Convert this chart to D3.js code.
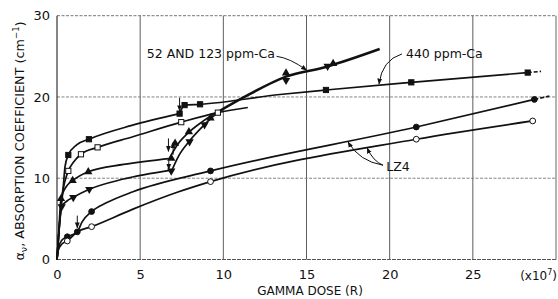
<!DOCTYPE html>
<html>
<head>
<meta charset="utf-8">
<script src="https://cdn.jsdelivr.net/npm/d3@7"></script>
<style>
body { margin: 0; background: #fff; }
svg { display: block; }
text { font-family: 'DejaVu Sans', sans-serif; fill: #111; }
</style>
</head>
<body>
<svg id="chart" width="558" height="299"></svg>
<script>
// Axis ticks
var xTicks = [0, 5, 10, 15, 20, 25];
var yTicks = [0, 10, 20, 30];
var xGrid = [5, 10, 15, 20, 25];
var yGrid = [10, 20];

// 440 ppm-Ca (filled squares)
var sqFilledPts = [[0.68, 12.86], [1.92, 14.8], [7.37, 17.95], [7.67, 19.0], [8.6, 19.1], [16.17, 20.86], [21.3, 21.8], [28.3, 23.0]];
var sqFilledLineA = [[0, 0], [0.12, 3.5], [0.38, 9.0], [0.48, 11.4], [0.68, 12.86], [1.18, 14.1], [1.92, 14.8], [4.5, 16.5], [7.37, 17.95]];
var sqFilledLineB = [[7.37, 17.95], [7.67, 19.0], [8.6, 19.1], [13.4, 20.3], [16.17, 20.86], [21.3, 21.8], [28.3, 23.0]];
var sqFilledDash = [[28.3, 23.0], [29.1, 23.15]];

// open squares
var sqOpenPts = [[0.68, 10.9], [1.44, 12.95], [2.44, 13.8], [7.47, 16.9], [9.67, 18.07]];
var sqOpenLine = [[0, 0], [0.1, 3], [0.3, 7.8], [0.5, 9.8], [0.68, 10.9], [1.0, 12.0], [1.44, 12.95], [2.44, 13.8], [4.56, 15.1], [7.47, 16.9], [9.67, 18.07], [11.47, 18.7]];

// 52 and 123 ppm-Ca (triangles)
var triUpPts = [[0.24, 7.48], [0.94, 9.7], [1.88, 10.8], [6.87, 12.45], [7.1, 14.3], [7.93, 15.7], [9.23, 17.4], [13.77, 22.95], [16.6, 24.1]];
var triDownPts = [[0.28, 6.5], [0.98, 7.65], [1.94, 8.64], [6.87, 10.9], [7.97, 14.5], [8.87, 16.6], [13.77, 22.05], [16.27, 23.8]];
var triUpLine = [[0, 0], [0.1, 3.2], [0.24, 7.48], [0.5, 8.8], [0.94, 9.7], [1.88, 10.8], [4, 11.7], [6.87, 12.45]];
var triDownLine = [[0, 0], [0.1, 3], [0.28, 6.5], [0.6, 7.2], [0.98, 7.65], [1.94, 8.64], [4, 9.9], [6.87, 11.0]];
var triUpArc = [[6.8, 12.6], [7.2, 14.0], [7.9, 15.6], [8.7, 16.9], [9.67, 18.2]];
var triDownArc = [[6.87, 10.8], [7.3, 12.7], [7.97, 14.6], [8.87, 16.6], [9.67, 18.1]];
var triMerged = [[9.67, 18.15], [11.27, 20.0], [13.77, 22.5], [16.17, 23.7], [19.4, 25.9]];

// LZ4 (circles)
var circFilledPts = [[0.62, 2.8], [1.22, 3.4], [2.08, 5.9], [9.23, 10.9], [21.6, 16.3], [28.7, 19.7]];
var circFilledLine = [[0, 0], [0.1, 1.5], [0.3, 2.4], [0.62, 2.8], [1.22, 3.4], [1.5, 4.6], [2.08, 5.9], [3, 7.0], [4.57, 8.34], [9.23, 10.9], [21.6, 16.3], [28.7, 19.7]];
var circFilledDash = [[28.7, 19.7], [29.6, 20.1]];
var circOpenPts = [[0.62, 2.28], [2.08, 4.04], [9.23, 9.58], [21.6, 14.8], [28.6, 17.05]];
var circOpenLine = [[0, 0], [0.1, 1.3], [0.3, 1.9], [0.62, 2.28], [1.22, 3.4], [2.08, 4.04], [4.57, 6.2], [7.27, 8.3], [9.23, 9.58], [21.6, 14.8], [28.6, 17.05]];

// small vertical arrows: [x, from y, to y]
var arrows = [[7.37, 19.9, 18.3], [1.22, 5.4, 3.9], [6.7, 14.9, 13.3], [6.98, 12.9, 14.4], [6.72, 12.2, 11.1]];

// labels with leaders
var labels = [
	{ text: "52 AND 123 ppm-Ca", x: 5.4, y: 24.8, lead: [[13.2, 25.0], [14.0, 24.8], [15.0, 23.3]] },
	{ text: "440 ppm-Ca", x: 20.98, y: 24.8, lead: [[20.74, 25.3], [19.54, 24.55], [19.36, 21.6]] },
	{ text: "LZ4", x: 19.8, y: 10.9, lead: [[19.6, 11.6], [18.17, 12.1], [17.5, 14.46]] },
	{ text: "", x: 0, y: 0, lead: [[19.6, 11.6], [19.0, 12.1], [18.65, 13.72]] }
];

var svg = d3.select('#chart');

var x = d3.scaleLinear().domain([0, 30]).range([57, 556]);
var y = d3.scaleLinear().domain([0, 30]).range([259.5, 15.7]);

var line = d3.line()
	.x(function(d) { return x(d[0]); })
	.y(function(d) { return y(d[1]); })
	.curve(d3.curveMonotoneX);

// arrowhead marker
svg.append('defs').append('marker')
	.attr('id', 'head')
	.attr('viewBox', '0 0 10 10')
	.attr('refX', 9).attr('refY', 5)
	.attr('markerWidth', 6).attr('markerHeight', 6)
	.attr('orient', 'auto-start-reverse')
	.append('path').attr('d', 'M0,1L10,5L0,9z').attr('fill', '#111');

// grid
svg.selectAll('.vgrid').data(xGrid).enter().append('line')
	.attr('x1', function(d) { return x(d); }).attr('x2', function(d) { return x(d); })
	.attr('y1', y(0)).attr('y2', y(30))
	.attr('stroke', '#333').attr('stroke-width', 0.8);
svg.selectAll('.hgrid').data(yGrid).enter().append('line')
	.attr('x1', x(0)).attr('x2', x(30))
	.attr('y1', function(d) { return y(d); }).attr('y2', function(d) { return y(d); })
	.attr('stroke', '#777').attr('stroke-width', 0.9).attr('stroke-dasharray', '3,1.5');

// frame
svg.append('line').attr('x1', x(0)).attr('x2', x(30)).attr('y1', y(30)).attr('y2', y(30))
	.attr('stroke', '#777').attr('stroke-width', 1).attr('stroke-dasharray', '3,1.5');
svg.append('line').attr('x1', x(0)).attr('x2', x(30)).attr('y1', y(0)).attr('y2', y(0))
	.attr('stroke', '#555').attr('stroke-width', 1.1).attr('stroke-dasharray', '4,1');
svg.append('line').attr('x1', x(0)).attr('x2', x(0)).attr('y1', y(0)).attr('y2', y(30))
	.attr('stroke', '#222').attr('stroke-width', 1.1);
svg.append('line').attr('x1', x(30)).attr('x2', x(30)).attr('y1', y(0)).attr('y2', y(30))
	.attr('stroke', '#555').attr('stroke-width', 0.9);

// axes (labels only)
svg.append('g')
	.attr('transform', 'translate(0,' + y(0) + ')')
	.call(d3.axisBottom(x).tickValues(xTicks).tickSize(0).tickPadding(10));
svg.append('g')
	.attr('transform', 'translate(' + x(0) + ',0)')
	.call(d3.axisLeft(y).tickValues(yTicks).tickSize(0).tickPadding(7));
svg.selectAll('.domain').remove();
svg.selectAll('.tick text').attr('font-size', 13).attr('font-family', "'DejaVu Sans', sans-serif").attr('fill', '#111');

var mult = svg.append('text').attr('x', 557).attr('y', 280).attr('text-anchor', 'end').attr('font-size', 12);
mult.append('tspan').text('(x10');
mult.append('tspan').attr('dy', -5).attr('font-size', 8).text('7');
mult.append('tspan').attr('dy', 5).text(')');

svg.append('text').attr('x', 310).attr('y', 295).attr('text-anchor', 'middle').attr('font-size', 12)
	.text('GAMMA DOSE (R)');

var yt = svg.append('text')
	.attr('transform', 'translate(24,141) rotate(-90)')
	.attr('text-anchor', 'middle').attr('font-size', 12.8);
yt.append('tspan').text('α');
yt.append('tspan').attr('dy', 3).attr('font-size', 9.5).text('ν');
yt.append('tspan').attr('dy', -3).text(', ABSORPTION COEFFICIENT (cm');
yt.append('tspan').attr('dy', -5).attr('font-size', 8.5).text('−1');
yt.append('tspan').attr('dy', 5).text(')');

// curves
var thin = [sqFilledLineA, sqFilledLineB, sqOpenLine, triUpLine, triDownLine, triUpArc, triDownArc, circFilledLine, circOpenLine];
thin.forEach(function(pts) {
	svg.append('path').datum(pts).attr('d', line)
		.attr('fill', 'none').attr('stroke', '#111').attr('stroke-width', 1.7);
});
svg.append('path').datum(triMerged).attr('d', line)
	.attr('fill', 'none').attr('stroke', '#111').attr('stroke-width', 2.6);
[sqFilledDash, circFilledDash].forEach(function(pts) {
	svg.append('path').datum(pts).attr('d', line)
		.attr('fill', 'none').attr('stroke', '#111').attr('stroke-width', 1.6).attr('stroke-dasharray', '4,2');
});

// markers
function squares(pts, filled) {
	svg.append('g').selectAll('rect').data(pts).enter().append('rect')
		.attr('x', function(d) { return x(d[0]) - 2.6; })
		.attr('y', function(d) { return y(d[1]) - 2.6; })
		.attr('width', 5.2).attr('height', 5.2)
		.attr('fill', filled ? '#111' : '#fff').attr('stroke', '#111').attr('stroke-width', 1);
}
function circles(pts, filled) {
	svg.append('g').selectAll('circle').data(pts).enter().append('circle')
		.attr('cx', function(d) { return x(d[0]); })
		.attr('cy', function(d) { return y(d[1]); })
		.attr('r', 2.9)
		.attr('fill', filled ? '#111' : '#fff').attr('stroke', '#111').attr('stroke-width', 1);
}
function triangles(pts, up) {
	var sym = d3.symbol().type(d3.symbolTriangle).size(30);
	svg.append('g').selectAll('path').data(pts).enter().append('path')
		.attr('d', sym)
		.attr('transform', function(d) {
			return 'translate(' + x(d[0]) + ',' + y(d[1]) + ')' + (up ? '' : ' rotate(180)');
		})
		.attr('fill', '#111');
}
squares(sqFilledPts, true);
squares(sqOpenPts, false);
triangles(triUpPts, true);
triangles(triDownPts, false);
circles(circFilledPts, true);
circles(circOpenPts, false);

// small arrows
svg.append('g').selectAll('line').data(arrows).enter().append('line')
	.attr('x1', function(d) { return x(d[0]); }).attr('x2', function(d) { return x(d[0]); })
	.attr('y1', function(d) { return y(d[1]); }).attr('y2', function(d) { return y(d[2]); })
	.attr('stroke', '#111').attr('stroke-width', 1).attr('marker-end', 'url(#head)');

// labels and leaders
labels.forEach(function(l) {
	if (l.text) {
		svg.append('text').attr('x', x(l.x)).attr('y', y(l.y)).attr('font-size', 12.5)
			.style('fill', '#111').text(l.text);
	}
	var p = l.lead;
	svg.append('path')
		.attr('d', 'M' + x(p[0][0]) + ',' + y(p[0][1]) + 'Q' + x(p[1][0]) + ',' + y(p[1][1]) + ' ' + x(p[2][0]) + ',' + y(p[2][1]))
		.attr('fill', 'none').attr('stroke', '#111').attr('stroke-width', 1).attr('marker-end', 'url(#head)');
});
</script>
</body>
</html>
